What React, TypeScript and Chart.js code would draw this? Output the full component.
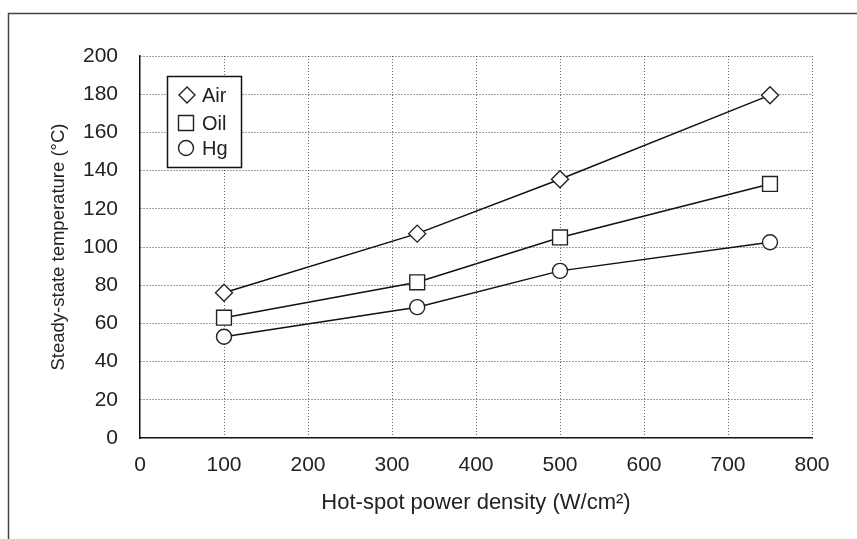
import React, { useEffect, useRef } from "react";
import { Chart, registerables } from "chart.js";

Chart.register(...registerables);

const powerDensity = [100, 330, 500, 750];
const airTemp = [76, 107, 135.5, 179.5];
const oilTemp = [63, 81.5, 105, 133];
const hgTemp = [53, 68.5, 87.5, 102.5];
const seriesNames = ["Air", "Oil", "Hg"];
const xTicks = [0, 100, 200, 300, 400, 500, 600, 700, 800];
const yTicks = [0, 20, 40, 60, 80, 100, 120, 140, 160, 180, 200];

const FONT = "'Liberation Sans', Arial, Helvetica, sans-serif";

const framePlugin = {
  id: "frame",
  beforeDraw(chart: any) {
    const ctx = chart.ctx;
    ctx.save();
    ctx.fillStyle = "#ffffff";
    ctx.fillRect(0, 0, chart.width, chart.height);
    ctx.strokeStyle = "#444444";
    ctx.lineWidth = 1.5;
    ctx.beginPath();
    ctx.moveTo(8.5, chart.height);
    ctx.lineTo(8.5, 13.5);
    ctx.lineTo(chart.width, 13.5);
    ctx.stroke();
    ctx.restore();
  },
};

const legendPlugin = {
  id: "boxLegend",
  afterDatasetsDraw(chart: any) {
    const ctx = chart.ctx;
    const x0 = 167.5, y0 = 76.5, w = 74, h = 91;
    ctx.save();
    ctx.fillStyle = "#ffffff";
    ctx.fillRect(x0, y0, w, h);
    ctx.strokeStyle = "#111111";
    ctx.lineWidth = 1.5;
    ctx.strokeRect(x0, y0, w, h);
    const rows = [95, 123, 148];
    chart.data.datasets.forEach((ds: any, i: number) => {
      const cy = rows[i];
      const cx = 186;
      ctx.strokeStyle = "#222222";
      ctx.fillStyle = "#ffffff";
      ctx.lineWidth = 1.4;
      ctx.beginPath();
      if (ds.pointStyle === "rectRot") {
        ctx.moveTo(cx + 1, cy - 8);
        ctx.lineTo(cx + 9, cy);
        ctx.lineTo(cx + 1, cy + 8);
        ctx.lineTo(cx - 7, cy);
        ctx.closePath();
      } else if (ds.pointStyle === "rect") {
        ctx.rect(cx - 7.5, cy - 7.5, 15, 15);
      } else {
        ctx.arc(cx, cy, 7.5, 0, Math.PI * 2);
      }
      ctx.fill();
      ctx.stroke();
      ctx.fillStyle = "#222222";
      ctx.font = `20px ${FONT}`;
      ctx.textBaseline = "middle";
      ctx.textAlign = "left";
      ctx.fillText(ds.label, 202, cy + 1);
    });
    ctx.restore();
  },
};

export default function App() {
  const ref = useRef<HTMLCanvasElement>(null);
  useEffect(() => {
    if (!ref.current) return;
    const mk = (label: string, vals: number[], style: string, r: number) => ({
      label,
      data: powerDensity.map((x, i) => ({ x, y: vals[i] })),
      borderColor: "#111111",
      backgroundColor: "#ffffff",
      borderWidth: 1.5,
      pointStyle: style,
      pointRadius: r,
      pointHoverRadius: r,
      pointBorderWidth: 1.4,
      pointBorderColor: "#222222",
      pointBackgroundColor: "#ffffff",
      showLine: true,
      tension: 0,
    });
    const chart = new Chart(ref.current, {
      type: "scatter",
      data: {
        datasets: [
          mk(seriesNames[0], airTemp, "rectRot", 8.5),
          mk(seriesNames[1], oilTemp, "rect", 10.5),
          mk(seriesNames[2], hgTemp, "circle", 7.5),
        ],
      },
      options: {
        animation: false,
        responsive: false,
        events: [],
        layout: { padding: { left: 0, top: 56, right: 45, bottom: 0 } },
        plugins: { legend: { display: false }, tooltip: { enabled: false } },
        scales: {
          x: {
            type: "linear",
            min: 0,
            max: 800,
            afterBuildTicks: (s: any) => {
              s.ticks = xTicks.map((v) => ({ value: v }));
            },
            afterFit: (s: any) => {
              s.height = 101;
            },
            grid: {
              color: (c: any) => (c.tick && c.tick.value === 0 ? "rgba(0,0,0,0)" : "#666666"),
              lineWidth: 1,
              drawTicks: false,
              tickLength: 0,
            },
            border: { display: true, color: "#111111", width: 1.5, dash: [1, 2] as any },
            ticks: {
              color: "#222222",
              padding: 15,
              font: { family: FONT, size: 21 },
              maxRotation: 0,
            },
            title: {
              display: true,
              text: "Hot-spot power density (W/cm²)",
              color: "#222222",
              font: { family: FONT, size: 22 },
              padding: { top: 0, bottom: 23 },
            },
          },
          y: {
            type: "linear",
            min: 0,
            max: 200,
            afterBuildTicks: (s: any) => {
              s.ticks = yTicks.map((v) => ({ value: v }));
            },
            afterFit: (s: any) => {
              s.width = 140;
            },
            grid: {
              color: (c: any) => (c.tick && c.tick.value === 0 ? "rgba(0,0,0,0)" : "#444444"),
              lineWidth: 1,
              drawTicks: false,
              tickLength: 0,
            },
            border: { display: true, color: "#111111", width: 1.5, dash: [1, 2] as any },
            ticks: {
              color: "#222222",
              padding: 22,
              font: { family: FONT, size: 21 },
            },
            title: {
              display: true,
              text: "Steady-state temperature (°C)",
              color: "#222222",
              font: { family: FONT, size: 18.5 },
              padding: { top: 48, bottom: 0 },
            },
          },
        },
      },
      plugins: [framePlugin, legendPlugin],
    } as any);
    return () => chart.destroy();
  }, []);
  return (
    <div style={{ position: "absolute", left: 0, top: 0, width: 857, height: 539 }}>
      <canvas ref={ref} width={857} height={539} style={{ display: "block" }} />
    </div>
  );
}
